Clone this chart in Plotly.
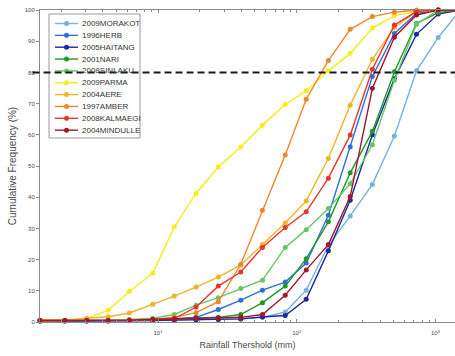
import plotly.graph_objects as go

# ---- data ----
rain_threshold = [1.41, 2.13, 3.06, 4.37, 6.21, 9.16, 13.1, 18.8, 27.2, 39.5,
                  56.6, 82.6, 117, 169, 243, 351, 506, 730, 1047, 1510]

names = ["2009MORAKOT", "1996HERB", "2005HAITANG", "2001NARI", "2008SINLAKU",
         "2009PARMA", "2004AERE", "1997AMBER", "2008KALMAEGI", "2004MINDULLE"]

colors = ["#7ab0dc", "#2f6fd8", "#1c2a9c", "#1f9a2a", "#66c865",
          "#f2ee1c", "#efb526", "#f0862a", "#e8352a", "#a3162e"]

morakot  = [0.3, 0.3, 0.3, 0.3, 0.4, 0.5, 0.6, 0.7, 0.8, 1.0, 1.5, 3.2, 10.2, 24.5, 34, 44.1, 59.6, 80.5, 91.2, 100]
herb     = [0.3, 0.3, 0.3, 0.4, 0.5, 0.8, 1.0, 1.5, 4.0, 7.0, 10.2, 12.8, 18.9, 34.2, 56.2, 78.7, 92.5, 98.9, 100, 100]
haitang  = [0.3, 0.3, 0.3, 0.3, 0.4, 0.5, 0.6, 0.7, 0.8, 1.0, 1.6, 2.1, 7.3, 22.8, 39, 60, 78, 92.2, 98.7, 100]
nari     = [0.5, 0.5, 0.5, 0.5, 0.6, 0.8, 1.0, 1.2, 1.5, 2.4, 6.2, 11.5, 20.3, 32.1, 47.8, 61.1, 80.2, 95.7, 99.2, 100]
sinlaku  = [0.5, 0.5, 0.5, 0.6, 0.8, 1.2, 2.4, 5.4, 7.8, 10.7, 13.4, 23.9, 29.6, 36.4, 44.3, 56.8, 77.5, 95.4, 100, 100]
parma    = [0.5, 0.5, 1.1, 3.8, 9.8, 15.6, 30.5, 41.2, 49.7, 56.1, 63.1, 69.7, 74.1, 80.5, 86.1, 94.2, 98.2, 99.5, 100, 100]
aere     = [0.5, 0.6, 1.2, 1.7, 2.9, 5.7, 8.3, 11.2, 14.4, 18.3, 24.8, 31.7, 38.8, 52.4, 69.5, 84.2, 94.4, 99.5, 100, 100]
amber    = [0.5, 0.5, 0.5, 0.5, 0.6, 0.8, 1.5, 3.0, 6.5, 18.5, 35.8, 53.5, 71.4, 83.8, 93.8, 97.9, 99.3, 100, 100, 100]
kalmaegi = [0.5, 0.5, 0.5, 0.5, 0.6, 0.8, 1.1, 4.8, 11.5, 16.0, 23.9, 30.3, 35.3, 46.1, 59.9, 81.0, 95.2, 99.5, 100, 100]
mindulle = [0.5, 0.5, 0.5, 0.5, 0.6, 0.8, 1.0, 1.2, 1.3, 1.5, 2.4, 8.6, 16.7, 24.8, 40.2, 74.9, 91.3, 98.4, 100, 100]

series = [morakot, herb, haitang, nari, sinlaku, parma, aere, amber, kalmaegi, mindulle]
threshold_line = 80

# ---- layout geometry (pixels) ----
W, H = 455, 356
L, R, T, B = 40, 0, 10, 34
pw, ph = W - L - R, H - T - B


def px(x):
    return (x - L) / pw


def py(y):
    return (H - B - y) / ph


fig = go.Figure()
for name, col, vals in zip(names, colors, series):
    fig.add_trace(go.Scatter(
        x=rain_threshold, y=vals, name=name, mode="lines+markers",
        line=dict(color=col, width=1.4),
        marker=dict(color=col, size=5, symbol="circle"),
        cliponaxis=False, showlegend=False,
    ))

axis_col = "#8a8a8a"
text_col = "#4a4a4a"
font_family = "Liberation Sans, Arial, sans-serif"

minor_vals = [m * 10 ** k for k in range(0, 4) for m in range(2, 10)]

fig.update_xaxes(
    type="log", range=[0.149, 3.141],
    tickvals=[10, 100, 1000],
    ticktext=["10<sup>1</sup>", "10<sup>2</sup>", "10<sup>3</sup>"],
    ticks="inside", ticklen=3, tickcolor=axis_col, ticklabelstandoff=5,
    minor=dict(tickvals=minor_vals, ticks="inside", ticklen=2, tickcolor=axis_col, showgrid=False),
    showline=True, linecolor=axis_col, linewidth=1, mirror="allticks",
    showgrid=False, zeroline=False, automargin=False,
    tickfont=dict(size=6, color=text_col),
    title=dict(text="Rainfall Thershold (mm)", font=dict(size=9, color=text_col), standoff=6),
)
fig.update_yaxes(
    range=[0, 100], tickvals=list(range(0, 101, 10)),
    ticks="outside", ticklen=3, tickcolor=axis_col,
    showline=True, linecolor=axis_col, linewidth=1, mirror=True,
    showgrid=False, zeroline=False, automargin=False,
    tickfont=dict(size=6, color=text_col),
    title=dict(text="Cumulative Frequency (%)", font=dict(size=10, color=text_col), standoff=6),
)

shapes = []
annotations = []

# manual compact legend
lx0, lx1, ly0, ly1 = 49, 140, 14, 138
shapes.append(dict(type="rect", xref="paper", yref="paper",
                   x0=px(lx0), x1=px(lx1), y0=py(ly1), y1=py(ly0),
                   line=dict(color="#9a9a9a", width=1), fillcolor="white", layer="above"))
row0, row_step = 23.5, 11.85
for i, (name, col) in enumerate(zip(names, colors)):
    yy = row0 + i * row_step
    shapes.append(dict(type="line", xref="paper", yref="paper",
                       x0=px(55), x1=px(78), y0=py(yy), y1=py(yy),
                       line=dict(color=col, width=1.4), layer="above"))
    shapes.append(dict(type="circle", xref="paper", yref="paper",
                       xsizemode="pixel", ysizemode="pixel",
                       xanchor=px(66.5), yanchor=py(yy),
                       x0=-2.5, x1=2.5, y0=-2.5, y1=2.5,
                       line=dict(color=col, width=0), fillcolor=col, layer="above"))
    annotations.append(dict(xref="paper", yref="paper", x=px(80), y=py(yy),
                            xanchor="left", yanchor="middle", showarrow=False,
                            text=name, font=dict(size=8, color="#333333", family=font_family)))

# 80% threshold line
shapes.append(dict(type="line", xref="paper", yref="y",
                   x0=-0.018, x1=1, y0=threshold_line, y1=threshold_line,
                   line=dict(color="#1a1a1a", width=2, dash="7px,4px"), layer="above"))

fig.update_layout(
    width=W, height=H,
    margin=dict(l=L, r=R, t=T, b=B),
    paper_bgcolor="white", plot_bgcolor="white",
    font=dict(family=font_family, color=text_col),
    shapes=shapes, annotations=annotations,
    showlegend=False,
)

fig.write_html("out.html", config={"displayModeBar": False},
               post_script="document.body.style.margin='0px';")
